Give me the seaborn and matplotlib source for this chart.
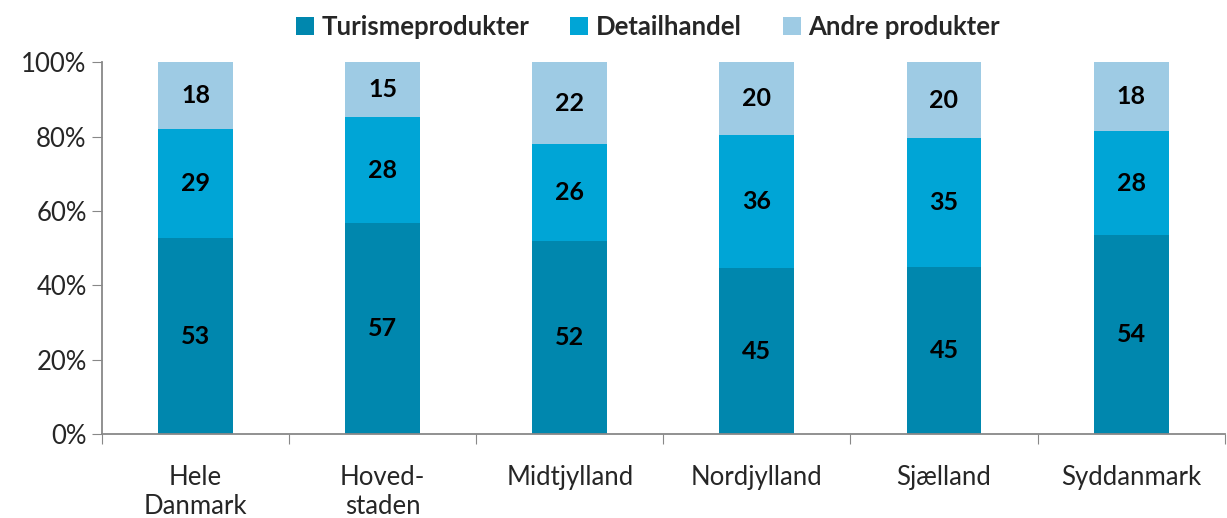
import matplotlib
matplotlib.use("Agg")
from matplotlib import pyplot as plt
from matplotlib.ticker import FixedLocator, PercentFormatter
import seaborn as sns
import numpy as np

categories = ["Hele\nDanmark", "Hoved-\nstaden", "Midtjylland", "Nordjylland", "Sjælland", "Syddanmark"]
series = ["Turismeprodukter", "Detailhandel", "Andre produkter"]
turisme = [52.7, 56.7, 51.9, 44.6, 44.9, 53.5]
detail = [29.3, 28.5, 26.1, 35.8, 34.7, 28.0]
andre = [18.0, 14.8, 22.0, 19.6, 20.4, 18.5]
colors = ["#0087AE", "#00A5D6", "#9ECBE4"]

sns.set_style("white")
plt.rcParams["font.family"] = ["Lato", "DejaVu Sans"]

fig = plt.figure(figsize=(12.27, 5.18), dpi=100)
ax = fig.add_axes([0.0831, 0.162, 0.915, 0.718])

bottom = np.zeros(len(categories))
for name, vals, col in zip(series, [turisme, detail, andre], colors):
    sns.barplot(x=categories, y=vals, bottom=bottom, color=col, width=0.4,
                label=name, ax=ax, linewidth=0, saturation=1)
    for i, v in enumerate(vals):
        ax.text(i, bottom[i] + v / 2, "%.0f" % v, ha="center", va="center",
                fontsize=18, fontweight="bold", color="black")
    bottom = bottom + np.array(vals)

ax.set_ylim(0, 100)
ax.set_xlim(-0.5, len(categories) - 0.5)
ax.yaxis.set_major_locator(FixedLocator([0, 20, 40, 60, 80, 100]))
ax.yaxis.set_major_formatter(PercentFormatter(decimals=0))

# category labels on minor ticks, tick marks between categories
ax.set_xticks(np.arange(len(categories)), minor=True)
ax.set_xticklabels(categories, minor=True, linespacing=1.05)
ax.set_xticks(np.arange(len(categories) + 1) - 0.5)
ax.set_xticklabels([])
ax.tick_params(axis="x", which="minor", length=0, labelsize=18.5, pad=22)
ax.tick_params(axis="x", which="major", length=7, color="#888888", direction="out")
ax.tick_params(axis="y", length=7, color="#888888", direction="out", labelsize=18.5, pad=4)
ax.xaxis.set_tick_params(which="both", bottom=True)
ax.yaxis.set_tick_params(left=True)

for s in ["top", "right"]:
    ax.spines[s].set_visible(False)
for s in ["left", "bottom"]:
    ax.spines[s].set_color("#888888")
    ax.spines[s].set_linewidth(1.3)
ax.set_xlabel("")
ax.set_ylabel("")

handles, labels = ax.get_legend_handles_labels()
fig.legend(handles, labels, loc="center", bbox_to_anchor=(0.528, 0.948), ncol=3,
           frameon=False, prop={"weight": "bold", "size": 18.5}, handlelength=0.7,
           handleheight=0.7, handletextpad=0.3, columnspacing=1.6)
if ax.get_legend() is not None:
    ax.get_legend().remove()

fig.savefig("out.png", dpi=100)
